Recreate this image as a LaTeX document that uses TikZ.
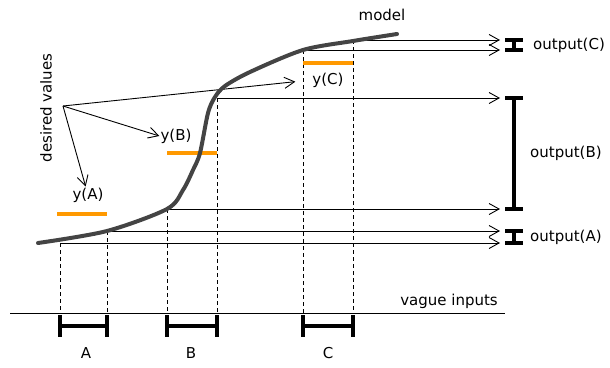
\documentclass[tikz,border=0pt]{standalone}
\usepackage{fontspec}
\setmainfont{DejaVu Sans}
\usepackage{xcolor}
\usetikzlibrary{arrows.meta}
\definecolor{modelgray}{RGB}{68,68,68}
\definecolor{desired}{RGB}{255,153,0}

\tikzset{
  lbl/.style={font=\fontsize{15}{18}\selectfont, inner sep=1pt},
  guide/.style={dash pattern=on 4pt off 3pt, line width=0.8pt},
  proj/.style={-{Straight Barb[length=10pt,width=11pt]}, line width=0.9pt},
  span/.style={line width=4pt},
  curve/.style={modelgray, line width=4pt, line cap=round},
  target/.style={desired, line width=4pt}
}

\begin{document}
\begin{tikzpicture}[x=1pt,y=-1pt]
  \useasboundingbox (0,0) rectangle (610,367);

  % interval ends, where they meet the model
  \coordinate (a1) at (60,243);
  \coordinate (a2) at (107,231);
  \coordinate (b1) at (167,209);
  \coordinate (b2) at (217,98);
  \coordinate (c1) at (303,50);
  \coordinate (c2) at (353,40);
  \coordinate (base) at (10,313);
  \coordinate (bar) at (0,326);
  \coordinate (tip) at (500,0);
  \coordinate (outx) at (514,0);
  \coordinate (dv) at (63,106);

  % input axis
  \draw[line width=0.9pt] (base) -- ++(495,0);
  \node[lbl, anchor=base east] (vague) at (499,305) {vague inputs};

  \foreach \p in {a1,a2,b1,b2,c1,c2}{
    \draw[guide] (\p) -- (\p |- base);
    \draw[proj] (\p) -- (\p -| tip);
  }

  % input intervals
  \foreach \p/\q in {a1/a2, b1/b2, c1/c2}{
    \draw[span] (\p |- bar) ++(0,-11) -- ++(0,22) ++(0,-11) -- (\q |- bar)
      ++(0,-11) -- ++(0,22);
  }
  \node[lbl] (inA) at (86,353) {A};
  \node[lbl] (inB) at (191,353) {B};
  \node[lbl] (inC) at (328,353) {C};

  % output ranges
  \foreach \p/\q in {a2/a1, b2/b1, c2/c1}{
    \draw[span] (\p -| outx) ++(-9,0) -- ++(18,0) ++(-9,0) -- (\q -| outx)
      ++(-9,0) -- ++(18,0);
  }
  \node[lbl, anchor=west] (outC) at (532,45) {output(C)};
  \node[lbl, anchor=west] (outB) at (529,153) {output(B)};
  \node[lbl, anchor=west] (outA) at (529,237) {output(A)};

  % desired values
  \draw[target] (57,214) -- (107,214);
  \draw[target] (167,153) -- (217,153);
  \draw[target] (303,63) -- (353,63);
  \node[lbl] (ya) at (88,195) {y(A)};
  \node[lbl] (yb) at (176,136) {y(B)};
  \node[lbl] (yc) at (328,80) {y(C)};
  \node[lbl, rotate=90] (dvlbl) at (46,108) {desired values};
  \draw[proj] (dv) -- (ya);
  \draw[proj] (dv) -- (yb.west);
  \draw[proj, shorten >=16pt] (dv) -- (yc.west);

  % model
  \draw[curve] plot[smooth] coordinates {(38,243) (107,231) (167,209)
    (183,190) (193,170) (200,153) (208,113) (215,97) (225,86) (250,72)
    (303,50) (353,41) (397,34)};
  \node[lbl] (mlbl) at (382,15) {model};
\end{tikzpicture}
\end{document}
